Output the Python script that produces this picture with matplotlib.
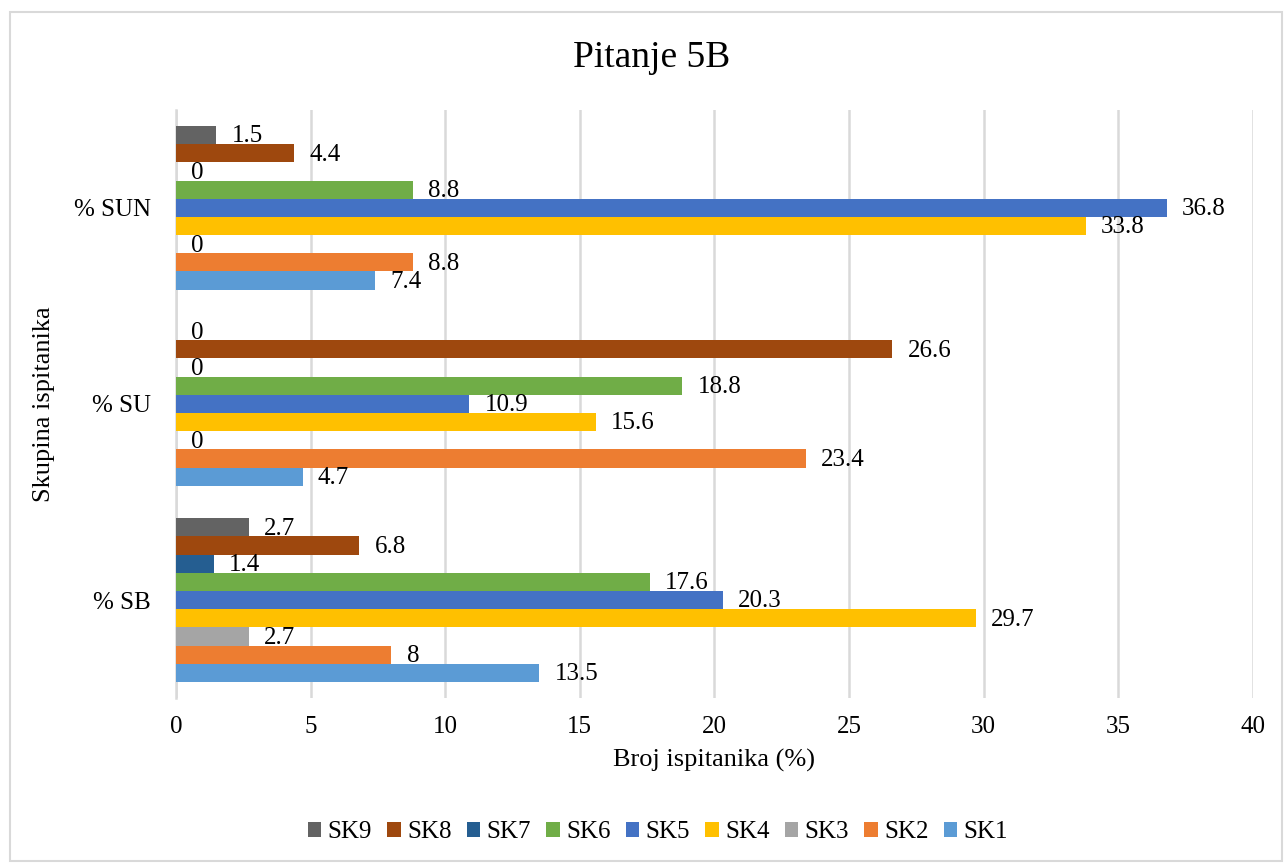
import numpy as np
import matplotlib
matplotlib.use('Agg')
import matplotlib.pyplot as plt
from matplotlib.patches import Rectangle

plt.rcParams['font.family'] = ['Liberation Serif', 'DejaVu Serif']

groups = ['% SB', '% SU', '% SUN']
series = ['SK1', 'SK2', 'SK3', 'SK4', 'SK5', 'SK6', 'SK7', 'SK8', 'SK9']
colors = ['#5B9BD5', '#ED7D31', '#A5A5A5', '#FFC000', '#4472C4',
          '#70AD47', '#255E91', '#9E480E', '#636363']

# values per series, order: SB, SU, SUN
sk1 = [13.5, 4.7, 7.4]
sk2 = [8, 23.4, 8.8]
sk3 = [2.7, 0, 0]
sk4 = [29.7, 15.6, 33.8]
sk5 = [20.3, 10.9, 36.8]
sk6 = [17.6, 18.8, 8.8]
sk7 = [1.4, 0, 0]
sk8 = [6.8, 26.6, 4.4]
sk9 = [2.7, 0, 1.5]
values = [sk1, sk2, sk3, sk4, sk5, sk6, sk7, sk8, sk9]

fig = plt.figure(figsize=(12.85, 8.64), dpi=100)
ax = fig.add_axes([0.137, 0.192, 0.838, 0.681])

# outer chart border
fig.patches.append(Rectangle((0.008, 0.004), 0.990, 0.982, transform=fig.transFigure,
                             fill=False, edgecolor='#d9d9d9', linewidth=1.5))

h = 0.0927
yb = np.arange(len(groups))
for i, (name, vals, c) in enumerate(zip(series, values, colors)):
    y = yb + (i - 4) * h
    ax.barh(y, vals, height=h, color=c, label=name, zorder=3)
    for yy, v in zip(y, vals):
        ax.annotate('{:g}'.format(v), (v, yy), xytext=(11, -1), textcoords='offset points',
                    ha='left', va='center', fontsize=18, zorder=4)

ax.set_xlim(0, 40)
ax.set_ylim(-0.5, 2.5)
ax.set_xticks(np.arange(0, 41, 5))
ax.set_yticks(yb)
ax.set_yticklabels(groups)
ax.tick_params(axis='both', length=0, labelsize=18)
ax.tick_params(axis='y', pad=18)
ax.tick_params(axis='x', pad=13)
ax.grid(axis='x', color='#d9d9d9', linewidth=1.8, zorder=0)
for s in ['top', 'right', 'bottom']:
    ax.spines[s].set_visible(False)
ax.spines['left'].set_color('#d9d9d9')
ax.spines['left'].set_linewidth(1.8)

fig.text(0.507, 0.933, 'Pitanje 5B', fontsize=27, ha='center', va='center')
ax.set_xlabel('Broj ispitanika (%)', fontsize=19, labelpad=8)
ax.set_ylabel('Skupina ispitanika', fontsize=19, labelpad=14)

handles, labels = ax.get_legend_handles_labels()
fig.legend(handles[::-1], labels[::-1], loc='center', bbox_to_anchor=(0.512, 0.037),
           ncol=9, frameon=False, fontsize=18, handlelength=0.55, handleheight=0.55,
           handletextpad=0.25, columnspacing=0.6)

fig.savefig('out.png', dpi=100)
